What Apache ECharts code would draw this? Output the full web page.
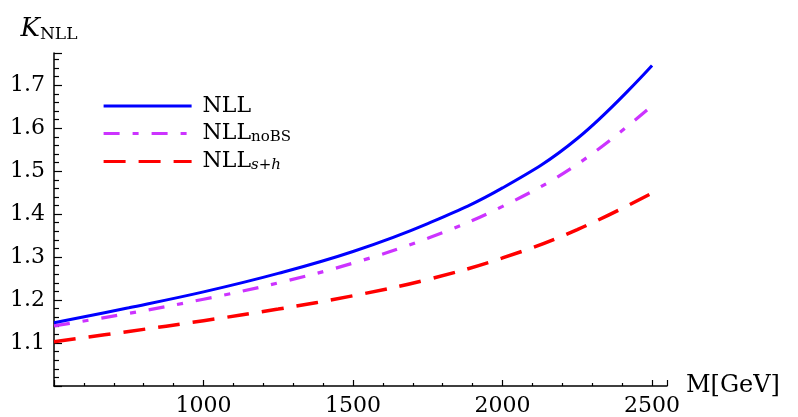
<!DOCTYPE html>
<html>
<head>
<meta charset="utf-8">
<script src="https://cdn.jsdelivr.net/npm/echarts@6/dist/echarts.min.js"></script>
<style>html,body{margin:0;padding:0;background:#fff}#c{width:798px;height:417px}</style>
</head>
<body>
<div id="c"></div>
<script>
const massGeV = [500, 750, 1000, 1250, 1500, 1750, 2000, 2250, 2500];
const kNLL = [1.147, 1.182, 1.219, 1.262, 1.313, 1.378, 1.461, 1.576, 1.746];
const kNLLnoBS = [1.140, 1.169, 1.202, 1.240, 1.286, 1.344, 1.418, 1.516, 1.652];
const kNLLsh = [1.103, 1.127, 1.152, 1.179, 1.210, 1.248, 1.298, 1.364, 1.449];
const seriesNames = ['NLL', 'NLL_noBS', 'NLL_s+h'];
const legendLabels = {
  'NLL': '{m|NLL}',
  'NLL_noBS': '{m|NLL}{s|noBS}',
  'NLL_s+h': '{m|NLL}{si|s+h}'
};

const FONT = 'DejaVu Serif';
const pairs = (ys) => massGeV.map((m, i) => [m, ys[i]]);

const chart = echarts.init(document.getElementById('c'), null, {renderer: 'canvas'});
chart.setOption({
  animation: false,
  backgroundColor: '#fff',
  grid: {left: 54, right: 131, top: 53, bottom: 31},
  legend: {
    orient: 'vertical', left: 97, top: 90,
    itemWidth: 88, itemHeight: 20, itemGap: 5,
    itemStyle: {color: 'rgba(0,0,0,0)', borderColor: 'rgba(0,0,0,0)', borderWidth: 0, opacity: 0},
    lineStyle: {width: 3.2},
    data: seriesNames,
    formatter: (n) => legendLabels[n],
    textStyle: {
      color: '#000', fontFamily: FONT, fontSize: 22, padding: [0, 0, 0, 6],
      rich: {
        m: {fontFamily: FONT, fontSize: 22, lineHeight: 20, color: '#000'},
        s: {fontFamily: FONT, fontSize: 15, lineHeight: 14, color: '#000', padding: [8, 0, 0, 0]},
        si: {fontFamily: FONT, fontSize: 15, lineHeight: 14, fontStyle: 'italic', color: '#000', padding: [8, 0, 0, 0]}
      }
    }
  },
  xAxis: {
    type: 'value', min: 500, max: 2550, interval: 500,
    name: 'M[GeV]', nameLocation: 'end', nameGap: 12,
    nameTextStyle: {fontFamily: FONT, fontSize: 24, color: '#000'},
    axisLine: {lineStyle: {color: '#000', width: 1.5}},
    axisTick: {inside: true, length: 6, lineStyle: {color: '#000', width: 1.2}},
    minorTick: {show: true, splitNumber: 5, length: 3, lineStyle: {color: '#000', width: 1.2}},
    axisLabel: {showMinLabel: false, showMaxLabel: false, margin: 9,
      fontFamily: FONT, fontSize: 22, color: '#000',
      formatter: (v) => String(v)},
    splitLine: {show: false}
  },
  yAxis: {
    type: 'value', min: 1.0, max: 1.775, interval: 0.1,
    name: '{k|K}{s|NLL}', nameLocation: 'end', nameGap: 10,
    nameTextStyle: {
      align: 'center', padding: [0, 10, 0, 0],
      rich: {
        k: {fontFamily: FONT, fontSize: 26, fontStyle: 'italic', color: '#000'},
        s: {fontFamily: FONT, fontSize: 17, color: '#000', padding: [10, 0, 0, 0]}
      }
    },
    axisLine: {show: true, lineStyle: {color: '#000', width: 1.5}},
    axisTick: {show: true, inside: true, length: 8, lineStyle: {color: '#000', width: 1.2}},
    minorTick: {show: true, splitNumber: 5, length: 5, lineStyle: {color: '#000', width: 1.2}},
    axisLabel: {showMinLabel: false, showMaxLabel: false, margin: 9,
      fontFamily: FONT, fontSize: 22, color: '#000',
      formatter: (v) => v.toFixed(1)},
    splitLine: {show: false}
  },
  series: [
    {name: seriesNames[0], type: 'line', smooth: 0.4, symbol: 'none', data: pairs(kNLL),
     lineStyle: {color: '#0000ff', width: 3}, itemStyle: {color: '#0000ff'}, z: 4},
    {name: seriesNames[1], type: 'line', smooth: 0.4, symbol: 'none', data: pairs(kNLLnoBS),
     lineStyle: {color: '#cc33ff', width: 3.2, type: [16, 13, 6, 13]}, itemStyle: {color: '#cc33ff'}, z: 3},
    {name: seriesNames[2], type: 'line', smooth: 0.4, symbol: 'none', data: pairs(kNLLsh),
     lineStyle: {color: '#ff0000', width: 3.5, type: [22, 13]}, itemStyle: {color: '#ff0000'}, z: 2}
  ]
});
</script>
</body>
</html>
